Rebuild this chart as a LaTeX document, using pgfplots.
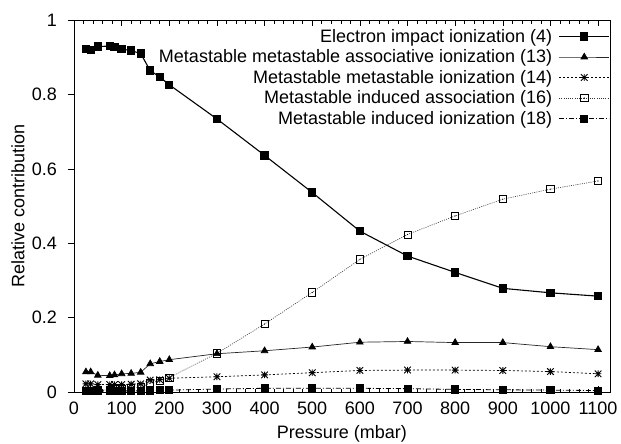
\documentclass[border=0pt]{standalone}
\usepackage{fontspec}
\setmainfont{Liberation Sans}
\usepackage{pgfplots}
\usepackage{pgfplotstable}
\pgfplotsset{compat=1.18}

% gnuplot-style asterisk: a plus and a cross on top of each other
\pgfdeclareplotmark{plusx}{%
  \pgfpathmoveto{\pgfqpoint{-\pgfplotmarksize}{0pt}}%
  \pgfpathlineto{\pgfqpoint{\pgfplotmarksize}{0pt}}%
  \pgfpathmoveto{\pgfqpoint{0pt}{-\pgfplotmarksize}}%
  \pgfpathlineto{\pgfqpoint{0pt}{\pgfplotmarksize}}%
  \pgfpathmoveto{\pgfqpoint{-\pgfplotmarksize}{-\pgfplotmarksize}}%
  \pgfpathlineto{\pgfqpoint{\pgfplotmarksize}{\pgfplotmarksize}}%
  \pgfpathmoveto{\pgfqpoint{-\pgfplotmarksize}{\pgfplotmarksize}}%
  \pgfpathlineto{\pgfqpoint{\pgfplotmarksize}{-\pgfplotmarksize}}%
  \pgfusepathqstroke}
% open square with a dot in its centre
\pgfdeclareplotmark{sqdot}{%
  \pgfpathrectangle{\pgfqpoint{-\pgfplotmarksize}{-\pgfplotmarksize}}%
    {\pgfqpoint{2\pgfplotmarksize}{2\pgfplotmarksize}}%
  \pgfusepathqstroke
  \pgfpathcircle{\pgfpointorigin}{0.6pt}%
  \pgfusepathqfill}

% Relative contribution of each ionization channel vs. pressure (mbar)
\pgfplotstableread{
p     eii    mmai   mmi    mia    mii
25    0.924  0.054  0.022  0.004  0.003
35    0.920  0.054  0.022  0.004  0.003
50    0.930  0.045  0.020  0.005  0.003
75    0.931  0.044  0.020  0.006  0.003
85    0.929  0.046  0.020  0.007  0.003
100   0.923  0.049  0.020  0.008  0.003
120   0.919  0.050  0.021  0.010  0.003
140   0.911  0.053  0.022  0.013  0.003
160   0.865  0.076  0.032  0.024  0.004
180   0.848  0.082  0.033  0.031  0.005
200   0.827  0.087  0.037  0.039  0.005
300   0.735  0.103  0.041  0.104  0.008
400   0.637  0.111  0.046  0.183  0.010
500   0.537  0.121  0.052  0.268  0.010
600   0.433  0.134  0.058  0.357  0.010
700   0.366  0.136  0.059  0.424  0.009
800   0.322  0.133  0.059  0.474  0.007
900   0.279  0.133  0.058  0.519  0.006
1000  0.267  0.122  0.055  0.546  0.005
1100  0.258  0.114  0.049  0.568  0.004
}\contrib

\begin{document}
\begin{tikzpicture}[font=\fontsize{18bp}{21bp}\selectfont]
\path[use as bounding box] (-74bp,-52bp) rectangle (547bp,392bp);
\begin{axis}[
  at={(0,0)}, anchor=south west,
  scale only axis, width=536bp, height=371.5bp,
  xmin=0, xmax=1125, ymin=0, ymax=1,
  xtick={0,100,...,1100}, ytick={0,0.2,0.4,0.6,0.8,1},
  minor x tick num=4,
  xtick align=inside, xtick pos=both,
  ytick align=outside, ytick pos=left,
  major tick length=6bp, minor tick length=3.5bp,
  tick style={black, line width=0.6bp},
  axis line style={line width=0.8bp},
  /pgf/number format/assume math mode=true,
  /pgf/number format/set thousands separator={},
  every tick label/.append style={inner sep=0pt},
  xticklabel style={yshift=-10bp},
  yticklabel style={xshift=-11bp},
  xlabel={Pressure (mbar)},
  ylabel={Relative contribution},
  xlabel style={at={(axis description cs:0.5,0)}, anchor=center, yshift=-42bp},
  ylabel style={at={(axis description cs:0,0.5)}, anchor=center, yshift=56bp},
  legend style={at={(1,1)}, anchor=north east, xshift=0bp, yshift=-7bp,
    draw=none, fill=none, inner sep=0pt, row sep=3bp, column sep=5bp,
    nodes={inner sep=1.5bp}},
  legend cell align=right,
  legend plot pos=right,
  legend image code/.code={%
    \draw[mark repeat=2, mark phase=2, #1]
      plot coordinates {(0bp,0bp) (25bp,0bp) (50bp,0bp)};},
]
\addplot[black, line width=1.1bp, mark=square*, mark size=3.6bp,
  mark options={solid}] table[x=p, y=eii] {\contrib};
\addlegendentry{Electron impact ionization (4)}
\addplot[black!85, line width=0.7bp, mark=triangle*, mark size=3.8bp,
  mark options={solid, black}] table[x=p, y=mmai] {\contrib};
\addlegendentry{Metastable metastable associative ionization (13)}
\addplot[black, line width=0.7bp, dash pattern=on 2bp off 2bp, mark=plusx,
  mark size=3.3bp, mark options={solid, line width=0.9bp}] table[x=p, y=mmi] {\contrib};
\addlegendentry{Metastable metastable ionization (14)}
\addplot[black!80, line width=0.6bp, dash pattern=on 1bp off 1.2bp, mark=sqdot,
  mark size=3.6bp, mark options={solid, black, line width=0.7bp}] table[x=p, y=mia] {\contrib};
\addlegendentry{Metastable induced association (16)}
\addplot[black, line width=0.8bp, dash pattern=on 5bp off 2bp on 1bp off 2bp,
  mark=square*, mark size=3.6bp, mark options={solid}] table[x=p, y=mii] {\contrib};
\addlegendentry{Metastable induced ionization (18)}
\end{axis}
\end{tikzpicture}
\end{document}
